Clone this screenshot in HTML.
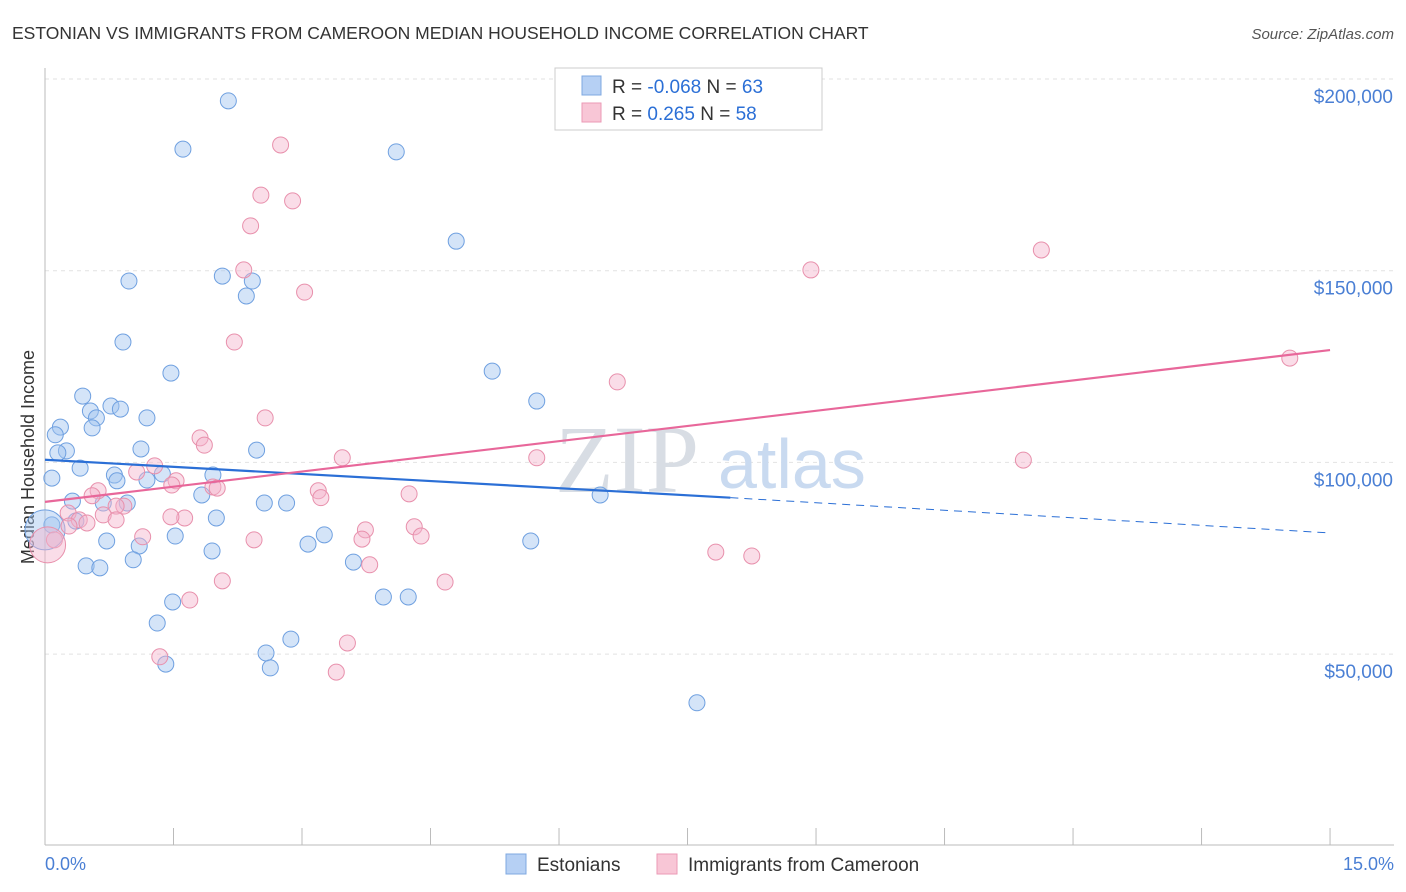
<!DOCTYPE html>
<html><head><meta charset="utf-8">
<style>
body{margin:0;background:#fff;font-family:"Liberation Sans",sans-serif;}
#wrap{position:relative;width:1406px;height:892px;overflow:hidden;}
svg{position:absolute;left:0;top:0;}
</style></head>
<body>
<div id="wrap">
<svg id="chart" width="1406" height="892">
<text x="12" y="39" font-size="17.5" fill="#333">ESTONIAN VS IMMIGRANTS FROM CAMEROON MEDIAN HOUSEHOLD INCOME CORRELATION CHART</text>
<text x="1394" y="39" font-size="15" fill="#555" font-style="italic" text-anchor="end">Source: ZipAtlas.com</text>
<text transform="translate(34,457) rotate(-90)" font-size="18" fill="#333" text-anchor="middle">Median Household Income</text>
<g id="grid"></g>
<text x="555" y="492" font-size="96" fill="#d8dde4" font-family="Liberation Serif,serif">ZIP</text>
<text x="718" y="488" font-size="70" fill="#c9daf0">atlas</text>
<g id="marks"></g>
<g id="lines"></g>
<g>
<rect x="555" y="68" width="267" height="62" fill="#fff" stroke="#ccc"/>
<rect x="582" y="76" width="19" height="19" fill="#b6d0f4" stroke="#7fa8e0"/>
<rect x="582" y="103" width="19" height="19" fill="#f8c6d6" stroke="#eb9ab6"/>
<text x="612" y="93" font-size="19" fill="#333">R = <tspan fill="#2b6fd6">-0.068</tspan>   N = <tspan fill="#2b6fd6">63</tspan></text>
<text x="612" y="120" font-size="19" fill="#333">R =  <tspan fill="#2b6fd6"> 0.265</tspan>   N = <tspan fill="#2b6fd6">58</tspan></text>
</g>
<g>
<rect x="506" y="854" width="20" height="20" fill="#b6d0f4" stroke="#7fa8e0"/>
<text x="537" y="871" font-size="19" fill="#333">Estonians</text>
<rect x="657" y="854" width="20" height="20" fill="#f8c6d6" stroke="#eb9ab6"/>
<text x="688" y="871" font-size="19" fill="#333">Immigrants from Cameroon</text>
</g>
<text x="45" y="870" font-size="18" fill="#4a7fd4">0.0%</text>
<text x="1394" y="870" font-size="18" fill="#4a7fd4" text-anchor="end">15.0%</text>
</svg>
</div>
<script>
const yTicks=[200000,150000,100000,50000];
const yTickLabels=["$200,000","$150,000","$100,000","$50,000"];
const xTicks=[0,1.5,3,4.5,6,7.5,9,10.5,12,13.5,15];
const estX=[2.14,1.61,4.10,4.80,0.98,2.07,2.42,2.35,0.91,1.47,5.22,5.74,0.44,0.77,0.53,0.88,0.60,1.19,0.18,0.55,0.12,1.12,2.47,0.25,0.15,0.41,0.08,0.81,1.37,1.96,0.84,1.19,1.83,6.48,0.32,0.96,0.68,2.56,2.82,0.36,2.00,0.08,1.52,3.26,0.72,1.10,3.07,5.67,1.95,1.03,3.60,0.48,0.64,1.49,3.95,4.24,1.31,2.87,2.58,1.41,2.63,7.61,0.0];
const estY=[194.3,181.7,181.0,157.7,147.3,148.6,147.3,143.4,131.4,123.3,123.8,116.0,117.3,114.7,113.4,113.9,111.6,111.6,109.2,109.0,107.2,103.5,103.2,103.0,102.5,98.5,95.9,96.7,97.0,96.7,95.2,95.4,91.5,91.5,89.9,89.4,89.4,89.4,89.4,84.7,85.5,83.7,80.8,81.1,79.5,78.2,78.7,79.5,76.9,74.6,74.0,73.0,72.5,63.6,64.9,64.9,58.1,53.9,50.3,47.4,46.4,37.3,82.4];
const camX=[2.75,2.52,2.89,2.40,2.32,3.03,8.94,11.63,2.21,14.53,6.68,2.57,1.81,1.86,3.47,5.74,11.42,1.28,1.07,1.53,1.48,0.62,0.55,3.19,4.25,3.22,1.96,2.01,0.92,0.83,0.27,0.68,0.40,0.49,1.63,1.47,0.28,0.83,4.31,3.74,1.14,2.44,4.39,3.70,0.11,0.03,7.83,8.25,2.07,4.67,3.79,1.69,3.53,1.34,3.40];
const camY=[182.8,169.7,168.2,161.7,150.2,144.4,150.2,155.4,131.4,127.2,121.0,111.6,106.4,104.5,101.2,101.2,100.6,99.1,97.5,95.2,94.1,92.6,91.3,92.6,91.8,90.8,93.6,93.3,88.6,88.6,86.8,86.3,85.0,84.2,85.5,85.8,83.4,85.0,83.2,82.4,80.6,79.8,80.8,80.0,79.8,78.5,76.6,75.6,69.1,68.8,73.3,64.1,52.9,49.3,45.3];
const estTrend=[100.7,90.8,81.6]; // at 0%, 8.0%, 15%
const estTrendX=[0,8.0,15];
const camTrend=[89.7,129.3];
const camTrendX=[0,15];

const NS="http://www.w3.org/2000/svg";
const X=v=>45+v*85.67;
const Y=v=>79+(200-v)*3.834; // v in thousands
function mk(tag,attrs,parent){const e=document.createElementNS(NS,tag);for(const k in attrs)e.setAttribute(k,attrs[k]);parent.appendChild(e);return e;}
const grid=document.getElementById('grid'),marks=document.getElementById('marks'),lines=document.getElementById('lines');
yTicks.forEach((t,i)=>{
  const y=Y(t/1000);
  const l=mk('line',{x1:45,x2:1394,y1:y,y2:y,stroke:'#e2e2e2','stroke-dasharray':'4,4'},grid);
  
  
  const tx=mk('text',{x:1393,y:y+24,'font-size':19,fill:'#4a7fd4','text-anchor':'end'},grid);
  tx.textContent=yTickLabels[i];
  
  
});
const ax=mk('line',{x1:45,x2:1394,y1:845,y2:845,stroke:'#bbb'},grid);


const ay=mk('line',{x1:45,x2:45,y1:68,y2:845,stroke:'#bbb'},grid);


xTicks.forEach(t=>{
  const l=mk('line',{x1:X(t),x2:X(t),y1:828,y2:845,stroke:'#bbb'},grid);
  
  
});
estX.forEach((x,i)=>{
  const big=i===estX.length-1;
  const c=mk('circle',{cx:X(x),cy:Y(estY[i]),r:big?20:8,fill:'rgba(160,195,240,0.45)',stroke:'#6fa0e0','stroke-width':1},marks);
  
  
});
camX.forEach((x,i)=>{
  const big=i===45;
  const c=mk('circle',{cx:X(x),cy:Y(camY[i]),r:big?18:8,fill:'rgba(245,180,204,0.45)',stroke:'#e890ac','stroke-width':1},marks);
  
  
});
const b1=mk('line',{x1:X(estTrendX[0]),y1:Y(estTrend[0]),x2:X(estTrendX[1]),y2:Y(estTrend[1]),stroke:'#2b6fd6','stroke-width':2.2},lines);


const b2=mk('line',{x1:X(estTrendX[1]),y1:Y(estTrend[1]),x2:X(estTrendX[2]),y2:Y(estTrend[2]),stroke:'#2b6fd6','stroke-width':1,'stroke-dasharray':'8,6'},lines);


const p1=mk('line',{x1:X(camTrendX[0]),y1:Y(camTrend[0]),x2:X(camTrendX[1]),y2:Y(camTrend[1]),stroke:'#e8679a','stroke-width':2.2},lines);


</script>
</body></html>
